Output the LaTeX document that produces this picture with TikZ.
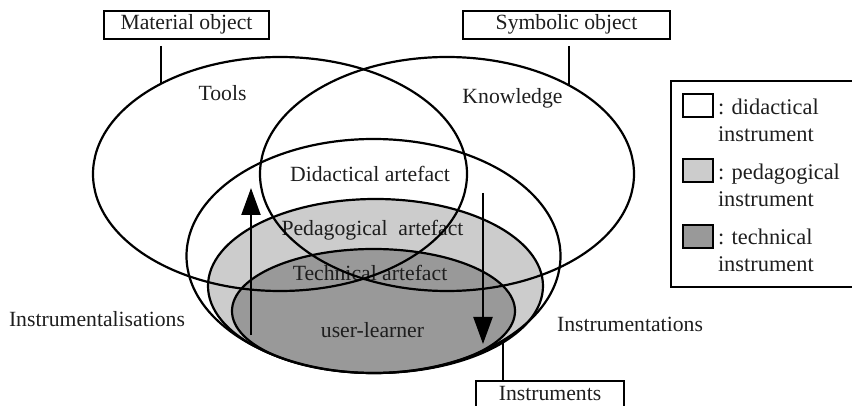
\documentclass[tikz,border=0pt]{standalone}
\usepackage{fontspec}
\setmainfont{Liberation Serif}
\usetikzlibrary{shapes.geometric,arrows.meta}
\definecolor{lightg}{RGB}{204,204,204}
\definecolor{darkg}{RGB}{153,153,153}
\definecolor{txt}{RGB}{30,30,30}
\begin{document}
\begin{tikzpicture}[x=1pt,y=-1pt,
  every node/.style={font=\fontsize{21.7}{26}\selectfont, text=txt},
  lbl/.style={anchor=base, inner sep=0, outer sep=0},
  legtxt/.style={anchor=base west, inner sep=0, outer sep=0, font=\fontsize{22.4}{26}\selectfont},
  ring/.style={ellipse, draw, line width=2.2pt, inner sep=0, outer sep=0},
  tagbox/.style={draw, line width=2pt, rectangle, inner sep=0, outer sep=0, anchor=base},
  stem/.style={line width=2pt},
  flow/.style={line width=2.2pt, -{Triangle[length=27pt,width=19pt]}},
  swatch/.style={draw, line width=2pt, minimum width=30pt, minimum height=23pt, inner sep=0, outer sep=0},
]
\useasboundingbox (0,0) rectangle (852,406);
\clip (0,0) rectangle (852,406);

% filled instrument ellipses
\node[ring, fill=lightg, minimum width=335pt, minimum height=174pt] (ped) at (375.5,286) {};
\node[ring, fill=darkg, minimum width=283pt, minimum height=124pt] (tech) at (373.5,311) {};

% labels inside
\node[lbl] (ltools) at (222.5,101) {Tools};
\node[lbl] (lknow) at (512.5,104) {Knowledge};
\node[lbl] (ldid) at (370,181.5) {Didactical artefact};
\node[lbl] (lped) at (372.5,235.5) {Pedagogical\ \ artefact};
\node[lbl] (ltech) at (370,281) {Technical artefact};
\node[lbl] (luser) at (372.5,337.5) {user-learner};
\node[lbl] (linstl) at (97,326.5) {Instrumentalisations};
\node[lbl] (linsts) at (630,331) {Instrumentations};

% outline ellipses
\node[ring, minimum width=374pt, minimum height=234pt] (tools) at (280,174) {};
\node[ring, minimum width=374pt, minimum height=234pt] (know) at (447,174) {};
\node[ring, minimum width=374pt, minimum height=234pt] (did) at (373.5,256) {};

% object boxes
\node[tagbox, minimum width=165pt, text height=19pt, text depth=9pt] (mat) at (186.5,30) {Material object};
\node[tagbox, minimum width=207pt, text height=19pt, text depth=9pt] (sym) at (566.5,30) {Symbolic object};
\node[tagbox, minimum width=148pt, text height=19.7pt, text depth=16pt] (ins) at (550,400.7) {Instruments};

% stems
\draw[stem, shorten <=7pt] (mat.south -| tools.143) -- (tools.143);
\draw[stem, shorten <=7pt] (sym.south -| know.36) -- (know.36);
\draw[stem] (did.327) -- (ins.north -| did.327);

% arrows
\coordinate (upS) at (251,335);
\coordinate (upE) at (251,188);
\coordinate (dnS) at (483,193);
\coordinate (dnE) at (483,344);
\draw[flow] (upS) -- (upE);
\draw[flow] (dnS) -- (dnE);

% legend
\node[draw, line width=2pt, minimum width=200pt, minimum height=206pt, inner sep=0, outer sep=0, anchor=north west] (legend) at (671,81) {};
\node[swatch, fill=white] (sw1) at (698,105.5) {};
\node[swatch, fill=lightg] (sw2) at (698,170.5) {};
\node[swatch, fill=darkg] (sw3) at (698,237) {};
\node[legtxt] (t1a) at (718,115) {: didactical};
\node[legtxt] (t1b) at (718,141.5) {instrument};
\node[legtxt] (t2a) at (718,179.5) {: pedagogical};
\node[legtxt] (t2b) at (718,207) {instrument};
\node[legtxt] (t3a) at (718,245) {: technical};
\node[legtxt] (t3b) at (718,271.5) {instrument};
\end{tikzpicture}
\end{document}
